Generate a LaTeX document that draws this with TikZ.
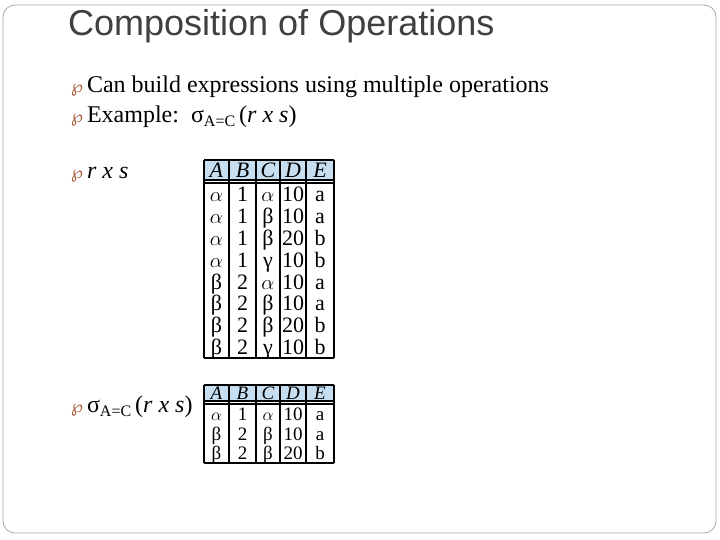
\documentclass[tikz,border=0pt]{standalone}
\usepackage{fontspec}
\setmainfont{Liberation Serif}
\newfontfamily\titlefont{Liberation Sans}
\newfontfamily\symfont{DejaVu Sans}
\definecolor{hdr}{RGB}{198,222,240}
\definecolor{bul}{RGB}{170,90,60}
\begin{document}
\begin{tikzpicture}[x=1pt,y=-1pt,
  bodytext/.style={anchor=base west,inner sep=0,font=\fontsize{24}{26}\selectfont},
  cell/.style={anchor=base,inner sep=0,font=\fontsize{22}{22}\selectfont},
  cellsm/.style={anchor=base,inner sep=0,font=\fontsize{19}{19}\selectfont},
  tabline/.style={line width=1.4pt}]
\useasboundingbox (0,0) rectangle (720,540);
\draw[gray!70,line width=0.8pt,rounded corners=12pt] (3,5) rectangle (716,533);
\node[anchor=base west,inner sep=0,text=black!75,font=\titlefont\fontsize{36}{38}\selectfont] (title) at (68,36) {Composition of Operations};
\newcommand\bulletglyph{{\color{bul}\symfont\fontsize{17}{17}\selectfont ℘}\,}
\newcommand\selexpr{σ\raisebox{-4pt}{\fontsize{16}{16}\selectfont A=C}\,(\textit{r x s})}
\node[bodytext] (b1) at (71,93) {\bulletglyph Can build expressions using multiple operations};
\node[bodytext] (b2) at (71,123) {\bulletglyph Example:\ \ \selexpr};
\node[bodytext] (b3) at (71,179) {\bulletglyph\textit{r x s}};
\node[bodytext] (b4) at (71,412) {\bulletglyph \selexpr};
% table 1
\fill[hdr] (204,160) rectangle (334,180);
\foreach \x in {204,229,256,280,306,334} \draw[tabline] (\x,160) -- (\x,358);
\draw[tabline] (204,160) -- (334,160) (204,180) -- (334,180) (204,183) -- (334,183) (204,358) -- (334,358);
\foreach \h [count=\i] in {A,B,C,D,E}{
  \pgfmathsetmacro\cx{{216.5,242.5,268,293,320}[\i-1]}
  \node[cell] (h1\i) at (\cx,177.5) {\textit{\h}};}
\foreach \a/\b/\c/\d/\e [count=\r] in {$\alpha$/1/$\alpha$/10/a,$\alpha$/1/β/10/a,$\alpha$/1/β/20/b,$\alpha$/1/γ/10/b,β/2/$\alpha$/10/a,β/2/β/10/a,β/2/β/20/b,β/2/γ/10/b}{
  \pgfmathsetmacro\cy{183+21.9*(\r-0.5)+7.5}
  \node[cell] (t1a\r) at (216.5,\cy) {\a};
  \node[cell] (t1b\r) at (242.5,\cy) {\b};
  \node[cell] (t1c\r) at (268,\cy) {\c};
  \node[cell] (t1d\r) at (293,\cy) {\d};
  \node[cell] (t1e\r) at (320,\cy) {\e};}
% table 2
\fill[hdr] (204,385) rectangle (334,401);
\foreach \x in {204,229,256,280,306,334} \draw[tabline] (\x,385) -- (\x,463);
\draw[tabline] (204,385) -- (334,385) (204,401) -- (334,401) (204,404) -- (334,404) (204,463) -- (334,463);
\foreach \h [count=\i] in {A,B,C,D,E}{
  \pgfmathsetmacro\cx{{216.5,242.5,268,293,320}[\i-1]}
  \node[cellsm] (h2\i) at (\cx,399) {\textit{\h}};}
\foreach \a/\b/\c/\d/\e [count=\r] in {$\alpha$/1/$\alpha$/10/a,β/2/β/10/a,β/2/β/20/b}{
  \pgfmathsetmacro\cy{404+19.7*(\r-0.5)+6.5}
  \node[cellsm] (t2a\r) at (216.5,\cy) {\a};
  \node[cellsm] (t2b\r) at (242.5,\cy) {\b};
  \node[cellsm] (t2c\r) at (268,\cy) {\c};
  \node[cellsm] (t2d\r) at (293,\cy) {\d};
  \node[cellsm] (t2e\r) at (320,\cy) {\e};}
\end{tikzpicture}
\end{document}
